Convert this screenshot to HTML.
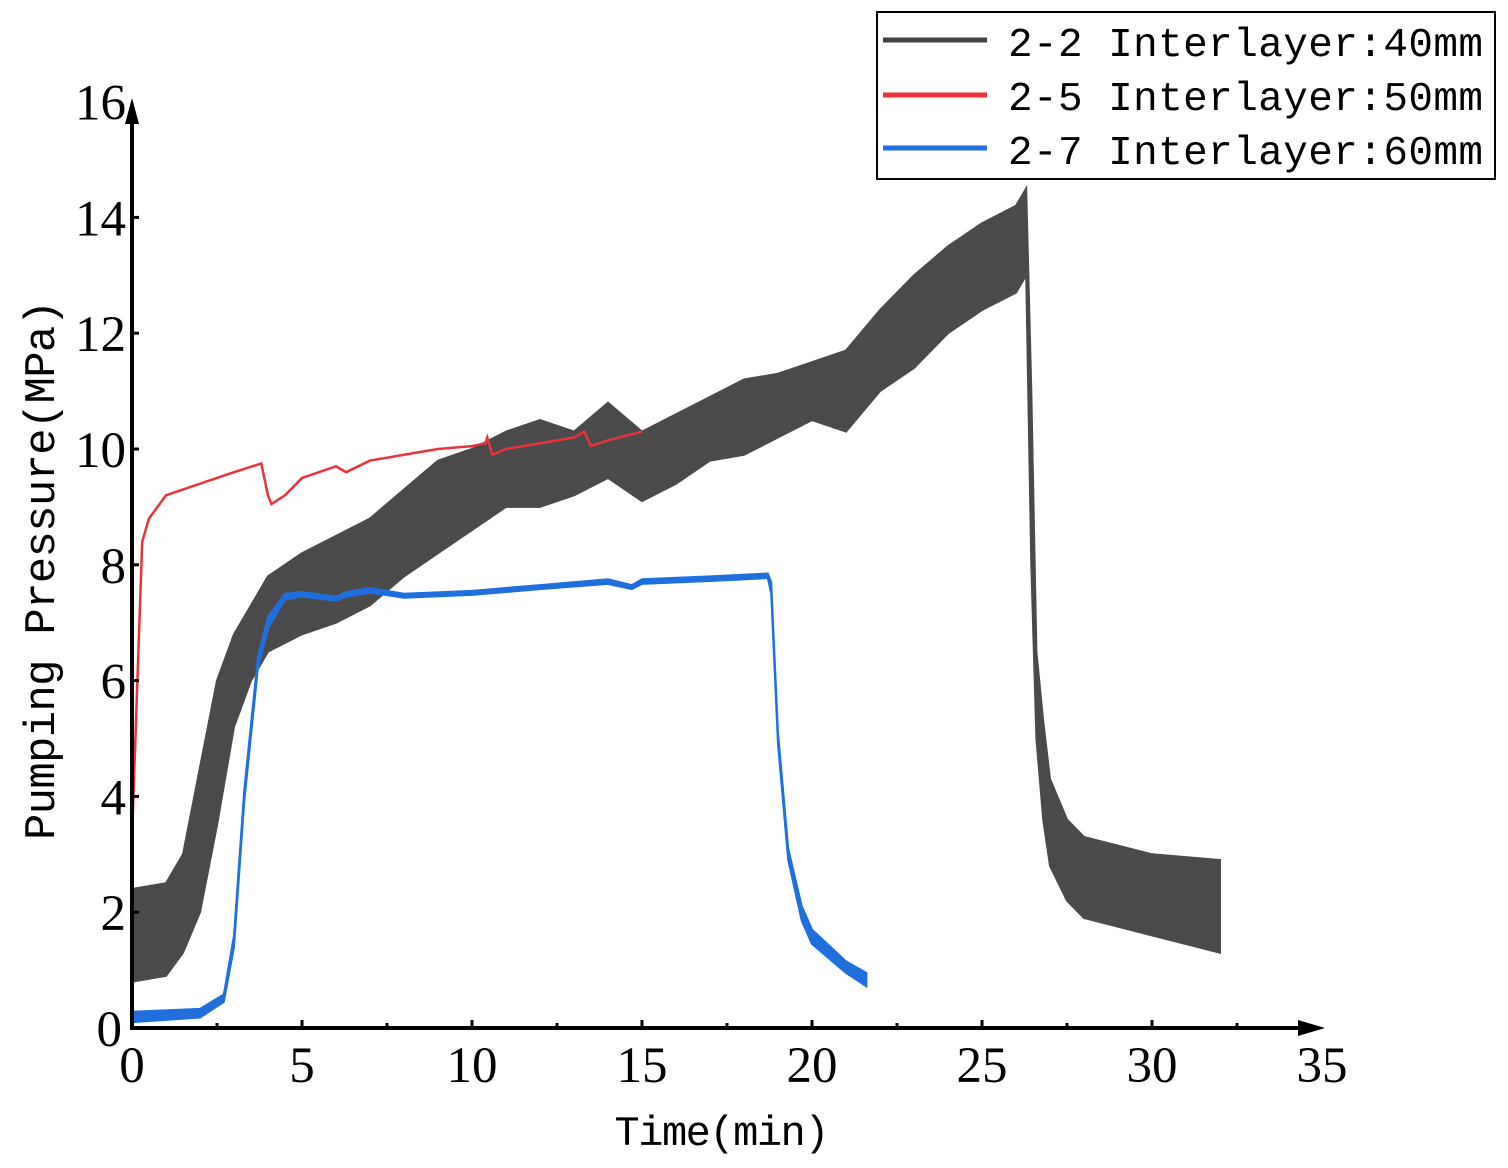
<!DOCTYPE html>
<html><head><meta charset="utf-8"><style>
html,body{margin:0;padding:0;background:#fff;}
svg{display:block;}
</style></head><body>
<svg id="chart" width="1508" height="1168" viewBox="0 0 1508 1168" xmlns="http://www.w3.org/2000/svg">
<g id="series"></g>
<g id="axes"></g>
<g id="legend">
  <rect x="877" y="12" width="618" height="167" fill="#fff" stroke="#000" stroke-width="2"/>
  <line x1="883" y1="40" x2="987" y2="40" stroke="#444" stroke-width="5"/>
  <text x="1008" y="56" font-family="Liberation Mono, monospace" font-size="41" textLength="475">2-2 Interlayer:40mm</text>
  <line x1="883" y1="95" x2="987" y2="95" stroke="#e8333a" stroke-width="5"/>
  <text x="1008" y="110" font-family="Liberation Mono, monospace" font-size="41" textLength="475">2-5 Interlayer:50mm</text>
  <line x1="883" y1="148" x2="987" y2="148" stroke="#1f6fde" stroke-width="5"/>
  <text x="1008" y="164" font-family="Liberation Mono, monospace" font-size="41" textLength="475">2-7 Interlayer:60mm</text>
</g>
</svg>
<script>
const xTicks = [0,5,10,15,20,25,30,35];
const yTicks = [0,2,4,6,8,10,12,14,16];
// 2-2 series envelope
const grayT  = [0,1,1.5,2,2.5,3,3.5,4,5,6,7,8,9,10,11,12,13,14,15,16,17,18,19,20,21,22,23,24,25,26,26.3,26.45,26.6,26.8,27,27.5,28,30,32];
const grayLo = [0.8,0.9,1.3,2,3.5,5.2,6,6.5,6.8,7,7.3,7.8,8.2,8.6,9,9,9.2,9.5,9.1,9.4,9.8,9.9,10.2,10.5,10.3,11,11.4,12,12.4,12.7,13,8,5.0,3.6,2.8,2.2,1.9,1.6,1.3];
const grayHi = [2.4,2.5,3,4.5,6,6.8,7.3,7.8,8.2,8.5,8.8,9.3,9.8,10,10.3,10.5,10.3,10.8,10.3,10.6,10.9,11.2,11.3,11.5,11.7,12.4,13,13.5,13.9,14.2,14.5,11,6.5,5.3,4.3,3.6,3.3,3,2.9];
// 2-5 series
const redT = [0,0.3,0.5,1,2,3,3.8,4.0,4.1,4.5,5,6,6.3,7,8,9,10,10.4,10.45,10.6,11,12,13,13.3,13.5,14,15];
const redV = [3.3,8.4,8.8,9.2,9.4,9.6,9.75,9.2,9.05,9.2,9.5,9.7,9.6,9.8,9.9,10,10.05,10.1,10.2,9.9,10,10.1,10.2,10.3,10.05,10.15,10.3];
// 2-7 series envelope
const blueT  = [0,2,2.7,3,3.3,3.7,4,4.5,5,6,6.3,7,8,10,11,12,14,14.7,15,17,18.7,18.8,19,19.3,19.7,20,21,21.6];
const blueLo = [0.1,0.18,0.45,1.4,3.9,6.2,6.9,7.4,7.45,7.38,7.45,7.52,7.43,7.48,7.53,7.58,7.67,7.58,7.67,7.72,7.77,7.5,4.9,2.9,1.85,1.45,0.95,0.72];
const blueHi = [0.28,0.33,0.58,1.6,4.1,6.4,7.1,7.5,7.53,7.45,7.53,7.6,7.5,7.55,7.6,7.65,7.75,7.65,7.75,7.8,7.85,7.7,5.1,3.1,2.1,1.7,1.15,0.95];

const X = t => 132 + t*34;
const Y = v => 1028 - v*57.9;
const NS = 'http://www.w3.org/2000/svg';
const series = document.getElementById('series');
const axes = document.getElementById('axes');
function mk(tag, attrs, parent){const e=document.createElementNS(NS,tag);for(const k in attrs)e.setAttribute(k,attrs[k]);parent.appendChild(e);return e;}
function band(T,lo,hi){let d='M'+T.map((t,i)=>X(t)+','+Y(hi[i])).join('L');for(let i=T.length-1;i>=0;i--)d+='L'+X(T[i])+','+Y(lo[i]);return d+'Z';}

const g = mk('path',{d:band(grayT,grayLo,grayHi),fill:'#4a4a4a',stroke:'#4a4a4a','stroke-width':2},series);


const b = mk('path',{d:band(blueT,blueLo,blueHi),fill:'#1f6fde',stroke:'#1f6fde','stroke-width':2},series);


const r = mk('polyline',{points:redT.map((t,i)=>X(t)+','+Y(redV[i])).join(' '),fill:'none',stroke:'#e8333a','stroke-width':2.5},series);



const xa = mk('line',{x1:132,y1:1028,x2:1310,y2:1028,stroke:'#000','stroke-width':4},axes);


const xar = mk('polygon',{points:'1325,1028 1298,1020 1298,1036',fill:'#000'},axes);


const ya = mk('line',{x1:132,y1:1030,x2:132,y2:115,stroke:'#000','stroke-width':4},axes);


const yar = mk('polygon',{points:'132,98 125,124 139,124',fill:'#000'},axes);



xTicks.forEach((t,i)=>{
  if(t<35){for(const m of [0,2.5]){const tk=mk('line',{x1:X(t+m),y1:1028,x2:X(t+m),y2:m?1023:1020,stroke:'#000','stroke-width':3},axes);
  
  }}
  const lb=mk('text',{x:X(t),y:1082,'text-anchor':'middle','font-family':'Liberation Serif, serif','font-size':51},axes);
  lb.textContent=t;
  
  
});
yTicks.forEach(v=>{
  if(v>0&&v<16){const tk=mk('line',{x1:132,y1:Y(v),x2:139,y2:Y(v),stroke:'#000','stroke-width':3},axes);
  
  }
  const lb=mk('text',{x:v===0?122:126,y:Y(v)+18,'text-anchor':'end','font-family':'Liberation Serif, serif','font-size':51},axes);
  lb.textContent=v;
  
  
});
const xt=mk('text',{x:722,y:1145,'text-anchor':'middle','font-family':'Liberation Mono, monospace','font-size':42,textLength:215},axes);
xt.textContent='Time(min)';


const yt=mk('text',{x:0,y:0,'text-anchor':'middle','font-family':'Liberation Mono, monospace','font-size':44,textLength:540,transform:'translate(54,570) rotate(-90)'},axes);
yt.textContent='Pumping Pressure(MPa)';


</script>
</body></html>
